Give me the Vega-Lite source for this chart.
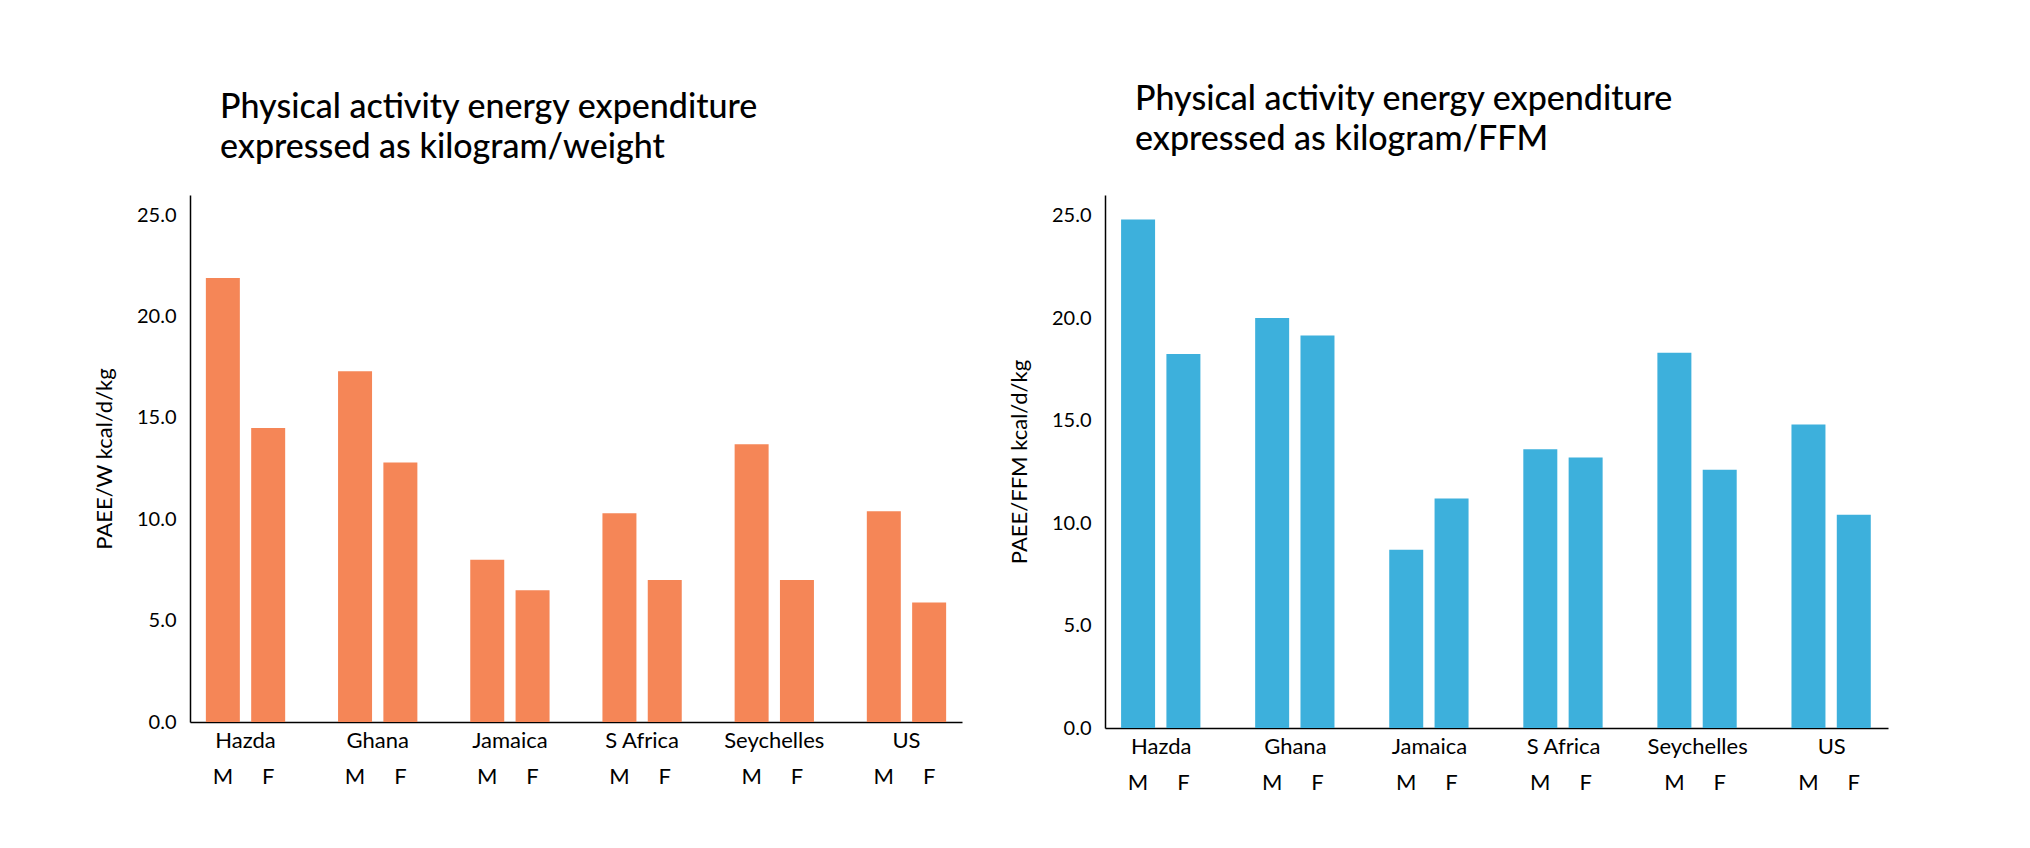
{
  "$schema": "https://vega.github.io/schema/vega-lite/v6.json",
  "padding": {"left": 93, "top": 83, "right": 20, "bottom": 10},
  "background": "white",
  "config": {
    "font": "Lato",
    "view": {"stroke": null},
    "axis": {"labelFont": "Lato", "titleFont": "Lato", "domainColor": "black", "domainWidth": 1.5, "ticks": false, "grid": false, "labelColor": "black", "titleColor": "black"},
    "title": {"font": "Lato", "fontSize": 34, "fontWeight": 500, "anchor": "start", "frame": "group", "color": "black", "lineHeight": 40}
  },
  "datasets": {
    "weight": [
      {"country": "Hazda", "sex": "M", "v": 21.9}, {"country": "Hazda", "sex": "F", "v": 14.5},
      {"country": "Ghana", "sex": "M", "v": 17.3}, {"country": "Ghana", "sex": "F", "v": 12.8},
      {"country": "Jamaica", "sex": "M", "v": 8.0}, {"country": "Jamaica", "sex": "F", "v": 6.5},
      {"country": "S Africa", "sex": "M", "v": 10.3}, {"country": "S Africa", "sex": "F", "v": 7.0},
      {"country": "Seychelles", "sex": "M", "v": 13.7}, {"country": "Seychelles", "sex": "F", "v": 7.0},
      {"country": "US", "sex": "M", "v": 10.4}, {"country": "US", "sex": "F", "v": 5.9}
    ],
    "ffm": [
      {"country": "Hazda", "sex": "M", "v": 24.8}, {"country": "Hazda", "sex": "F", "v": 18.25},
      {"country": "Ghana", "sex": "M", "v": 20.0}, {"country": "Ghana", "sex": "F", "v": 19.15},
      {"country": "Jamaica", "sex": "M", "v": 8.7}, {"country": "Jamaica", "sex": "F", "v": 11.2},
      {"country": "S Africa", "sex": "M", "v": 13.6}, {"country": "S Africa", "sex": "F", "v": 13.2},
      {"country": "Seychelles", "sex": "M", "v": 18.3}, {"country": "Seychelles", "sex": "F", "v": 12.6},
      {"country": "US", "sex": "M", "v": 14.8}, {"country": "US", "sex": "F", "v": 10.4}
    ]
  },
  "hconcat": [
    {
      "width": 772, "height": 527,
      "data": {"name": "weight"},
      "title": {"text": ["Physical activity energy expenditure", "expressed as kilogram/weight"], "dx": 30, "offset": 30},
      "encoding": {
        "x": {"field": "country", "type": "nominal", "sort": null, "scale": {"paddingInner": 0.4, "paddingOuter": 0.12}, "axis": {"title": null, "labelAngle": 0, "labelFontSize": 22, "labelPadding": 8}},
        "xOffset": {"field": "sex", "type": "nominal", "sort": ["M", "F"], "scale": {"paddingInner": 0.25}}
      },
      "layer": [
        {"mark": {"type": "bar", "color": "#F58657"},
         "encoding": {"y": {"field": "v", "type": "quantitative", "scale": {"domain": [0, 25]}, "axis": {"values": [0, 5, 10, 15, 20, 25], "format": ".1f", "title": "PAEE/W kcal/d/kg", "titleFontSize": 22, "titleFontWeight": "normal", "labelFontSize": 20, "labelPadding": 14, "titlePadding": 20}}}},
        {"mark": {"type": "text", "fontSize": 22, "dy": 55, "baseline": "middle"},
         "encoding": {"y": {"datum": 0, "type": "quantitative"}, "text": {"field": "sex"}}}
      ]
    },
    {
      "width": 783, "height": 533,
      "data": {"name": "ffm"},
      "title": {"text": ["Physical activity energy expenditure", "expressed as kilogram/FFM"], "dx": 30, "offset": 38},
      "encoding": {
        "x": {"field": "country", "type": "nominal", "sort": null, "scale": {"paddingInner": 0.4, "paddingOuter": 0.12}, "axis": {"title": null, "labelAngle": 0, "labelFontSize": 22, "labelPadding": 8}},
        "xOffset": {"field": "sex", "type": "nominal", "sort": ["M", "F"], "scale": {"paddingInner": 0.25}}
      },
      "layer": [
        {"mark": {"type": "bar", "color": "#3DB0DC"},
         "encoding": {"y": {"field": "v", "type": "quantitative", "scale": {"domain": [0, 25]}, "axis": {"values": [0, 5, 10, 15, 20, 25], "format": ".1f", "title": "PAEE/FFM kcal/d/kg", "titleFontSize": 22, "titleFontWeight": "normal", "labelFontSize": 20, "labelPadding": 14, "titlePadding": 20}}}},
        {"mark": {"type": "text", "fontSize": 22, "dy": 55, "baseline": "middle"},
         "encoding": {"y": {"datum": 0, "type": "quantitative"}, "text": {"field": "sex"}}}
      ]
    }
  ],
  "spacing": 46
}
